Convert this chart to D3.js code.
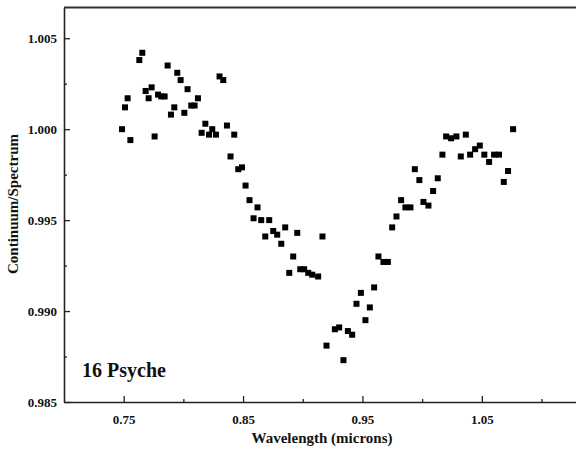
<!DOCTYPE html>
<html>
<head>
<meta charset="utf-8">
<script src="https://cdn.jsdelivr.net/npm/d3@7"></script>
<style>
  body { margin: 0; background: #fff; }
  svg { display: block; }
  text { font-family: "Liberation Serif", "Times New Roman", serif; font-weight: bold; fill: #111; }
</style>
</head>
<body>
<svg width="576" height="451"></svg>
<script>
// wavelength (microns) and continuum/spectrum ratio
var wavelength = [0.7486,0.7511,0.7533,0.7556,0.7631,0.7656,0.7684,0.7709,0.7734,0.7759,
  0.7788,0.7815,0.7843,0.7868,0.7896,0.7924,0.7949,0.7977,0.8008,0.8035,
  0.8066,0.8094,0.8122,0.8153,0.8184,0.8215,0.8242,0.8273,0.8303,0.8334,
  0.8365,0.8395,0.8426,0.8460,0.8491,0.8521,0.8554,0.8588,0.8621,0.8652,
  0.8686,0.8719,0.8753,0.8786,0.8820,0.8853,0.8887,0.8920,0.8954,0.8979,
  0.9012,0.9046,0.9079,0.9129,0.9165,0.9199,0.9269,0.9305,0.9341,0.9378,
  0.9414,0.9450,0.9487,0.9525,0.9562,0.9598,0.9634,0.9676,0.9713,0.9749,
  0.9785,0.9824,0.9860,0.9902,0.9939,0.9977,1.0011,1.0053,1.0092,1.0131,
  1.0170,1.0201,1.0243,1.0287,1.0324,1.0366,1.0402,1.0444,1.0483,1.0521,
  1.0561,1.0603,1.0644,1.0684,1.0720,1.0762];
var ratio = [1.0000,1.0012,1.0017,0.9994,1.0038,1.0042,1.0021,1.0017,1.0023,0.9996,
  1.0019,1.0018,1.0018,1.0035,1.0008,1.0012,1.0031,1.0027,1.0009,1.0022,
  1.0013,1.0013,1.0017,0.9998,1.0003,0.9997,1.0000,0.9997,1.0029,1.0027,
  1.0002,0.9985,0.9997,0.9978,0.9979,0.9969,0.9961,0.9951,0.9957,0.9950,
  0.9941,0.9950,0.9944,0.9942,0.9937,0.9946,0.9921,0.9930,0.9943,0.9923,
  0.9923,0.9921,0.9920,0.9919,0.9941,0.9881,0.9890,0.9891,0.9873,0.9889,
  0.9887,0.9904,0.9910,0.9895,0.9902,0.9913,0.9930,0.9927,0.9927,0.9946,
  0.9952,0.9961,0.9957,0.9957,0.9978,0.9972,0.9960,0.9958,0.9966,0.9973,
  0.9986,0.9996,0.9995,0.9996,0.9985,0.9997,0.9986,0.9989,0.9991,0.9986,
  0.9982,0.9986,0.9986,0.9971,0.9977,1.0000];

var xMajor = [0.75, 0.85, 0.95, 1.05];
var xMinor = [0.80, 0.90, 1.00, 1.10];
var yMajor = [0.985, 0.990, 0.995, 1.000, 1.005];
var yMinor = [0.9875, 0.9925, 0.9975, 1.0025];
var label = "16 Psyche";

var svg = d3.select("svg"),
    width = +svg.attr("width"),
    height = +svg.attr("height");

var padL = 64, padT = 7.5, padR = width, padB = 402;

var x = d3.scaleLinear().domain([0.70, 1.1289]).range([padL, padR]);
var y = d3.scaleLinear().domain([0.985, 1.00669]).range([padB, padT]);

var data = wavelength.map(function(w, i) { return {w: w, v: ratio[i]}; });

// minor ticks first, then major axes on top
svg.append("g")
    .attr("transform", "translate(0," + padB + ")")
    .call(d3.axisBottom(x).tickValues(xMinor).tickSize(-3).tickFormat(""))
    .call(function(g) { g.select(".domain").remove(); });
svg.append("g")
    .attr("transform", "translate(" + padL + ",0)")
    .call(d3.axisLeft(y).tickValues(yMinor).tickSize(-3).tickFormat(""))
    .call(function(g) { g.select(".domain").remove(); });

svg.append("g")
    .attr("transform", "translate(0," + padB + ")")
    .call(d3.axisBottom(x).tickValues(xMajor).tickSize(-6).tickSizeOuter(0).tickPadding(13)
        .tickFormat(d3.format(".2f")));
svg.append("g")
    .attr("transform", "translate(" + padL + ",0)")
    .call(d3.axisLeft(y).tickValues(yMajor).tickSize(-6).tickSizeOuter(0).tickPadding(7)
        .tickFormat(d3.format(".3f")));

svg.selectAll(".tick line").attr("stroke", "#222").attr("stroke-width", 1.3);
svg.selectAll(".domain").attr("stroke", "#222").attr("stroke-width", 1.6);
svg.selectAll(".tick text")
    .attr("font-family", "Liberation Serif, serif")
    .attr("font-weight", "bold")
    .attr("font-size", 13)
    .attr("fill", "#111");

// top frame line
svg.append("line")
    .attr("x1", padL).attr("x2", padR)
    .attr("y1", padT).attr("y2", padT)
    .attr("stroke", "#333").attr("stroke-width", 1.8);

svg.append("g")
    .selectAll("rect")
    .data(data)
    .enter().append("rect")
    .attr("x", function(d) { return x(d.w) - 3; })
    .attr("y", function(d) { return y(d.v) - 3; })
    .attr("width", 6)
    .attr("height", 6)
    .attr("fill", "#000");

svg.append("text")
    .attr("x", 82).attr("y", 377)
    .attr("font-size", 20)
    .text(label);

svg.append("text")
    .attr("x", 322).attr("y", 443)
    .attr("text-anchor", "middle")
    .attr("font-size", 15)
    .text("Wavelength (microns)");

svg.append("text")
    .attr("transform", "translate(18,204) rotate(-90)")
    .attr("text-anchor", "middle")
    .attr("font-size", 15)
    .text("Continuum/Spectrum");
</script>
</body>
</html>
